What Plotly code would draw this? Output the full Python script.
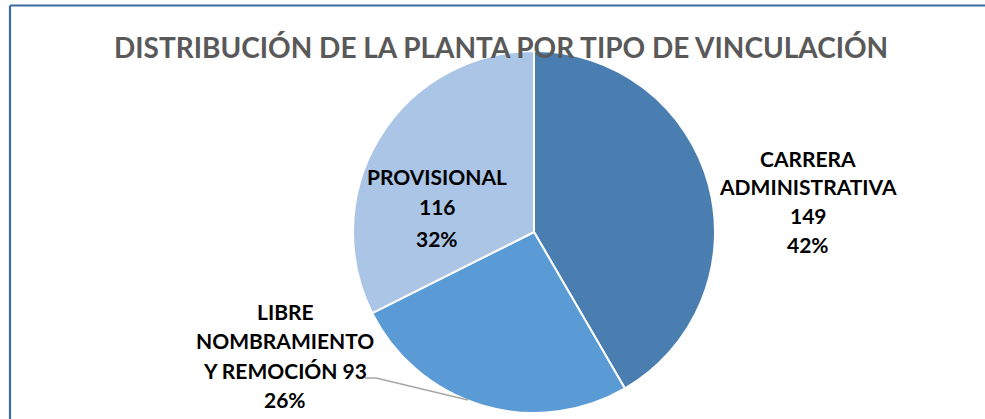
import plotly.graph_objects as go

categories = ["CARRERA ADMINISTRATIVA", "LIBRE NOMBRAMIENTO Y REMOCIÓN", "PROVISIONAL"]
values = [149, 93, 116]
colors = ["#4A7EB0", "#5B9BD5", "#ABC5E6"]
title_text = "DISTRIBUCIÓN DE LA PLANTA POR TIPO DE VINCULACIÓN"

W, H = 985, 419
total = sum(values)
pcts = [round(v * 100 / total) for v in values]

cx, cy, r = 534, 232, 181
fig = go.Figure(go.Pie(
    labels=categories, values=values, sort=False, direction="clockwise", rotation=0,
    marker=dict(colors=colors, line=dict(color="#FFFFFF", width=2)),
    textinfo="none", hoverinfo="label+value+percent", showlegend=False,
    domain=dict(x=[(cx - r) / W, (cx + r) / W], y=[(H - cy - r) / H, (H - cy + r) / H]),
))

label_lines = [
    ["CARRERA", "ADMINISTRATIVA", f"{values[0]}", f"{pcts[0]}%"],
    ["LIBRE", "NOMBRAMIENTO", f"Y REMOCIÓN {values[1]}", f"{pcts[1]}%"],
    ["PROVISIONAL", f"{values[2]}", f"{pcts[2]}%"],
]
label_pos = [(808, 158, 28.7), (285, 311, 29.5), (437, 176, 31)]
anns = []
for lines, (lx, y0, dy) in zip(label_lines, label_pos):
    for i, t in enumerate(lines):
        anns.append(dict(text=f"<b>{t}</b>", x=lx / W, y=1 - (y0 + i * dy) / H, xref="paper", yref="paper",
                         showarrow=False, xanchor="center", yanchor="middle",
                         font=dict(family="Lato, Open Sans, sans-serif", size=21, color="#000000")))
anns.append(dict(text=f"<b>{title_text}</b>", x=501 / W, y=1 - 47 / H, xref="paper", yref="paper",
                 showarrow=False, xanchor="center", yanchor="middle",
                 font=dict(family="Lato, Open Sans, sans-serif", size=28, color="#595959")))

border = dict(color="#3F6AA8", width=2.2)
shapes = [
    dict(type="path", xref="paper", yref="paper",
         path=f"M {365/W},{1-378/H} L {376/W},{1-378/H} L {468/W},{1-400/H}",
         line=dict(color="#A6A6A6", width=1.3)),
    dict(type="line", xref="paper", yref="paper", x0=10 / W, x1=1, y0=1 - 5.5 / H, y1=1 - 5.5 / H,
         line=border, layer="above"),
    dict(type="line", xref="paper", yref="paper", x0=10 / W, x1=10 / W, y0=0, y1=1 - 5.5 / H,
         line=border, layer="above"),
]

fig.update_layout(width=W, height=H, margin=dict(l=0, r=0, t=0, b=0),
                  paper_bgcolor="#FFFFFF", plot_bgcolor="#FFFFFF",
                  annotations=anns, shapes=shapes)
fig.write_html("out.html", config={"displayModeBar": False},
               post_script="document.body.style.margin='0';document.body.style.overflow='hidden';")
